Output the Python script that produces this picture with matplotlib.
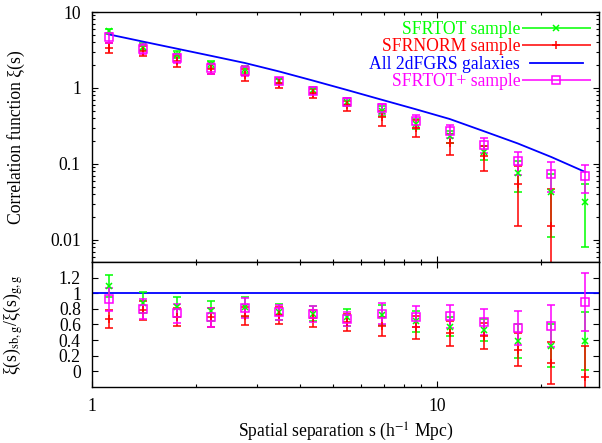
import numpy as np
import matplotlib
matplotlib.use("Agg")
import matplotlib.pyplot as plt
from matplotlib.container import ErrorbarContainer
from matplotlib.legend_handler import HandlerErrorbar
from matplotlib.ticker import LogLocator, FuncFormatter, NullFormatter

plt.rcParams['font.family'] = ['Liberation Serif', 'DejaVu Serif']
plt.rcParams['mathtext.fontset'] = 'stix'

# bin centres, s in h^-1 Mpc
sep = np.array([1.117, 1.404, 1.761, 2.21, 2.773, 3.479, 4.365, 5.477,
                6.896, 8.651, 10.86, 13.62, 17.09, 21.4, 26.85])

# xi(s) for each sample
xi_all = np.array([5.08, 4.08, 3.29, 2.65, 2.13, 1.65, 1.25, 0.94,
                   0.70, 0.525, 0.39, 0.27, 0.186, 0.123, 0.078])
xi_tot = np.array([5.6, 3.5, 2.75, 2.05, 1.75, 1.25, 0.93, 0.66,
                   0.50, 0.34, 0.23, 0.143, 0.075, 0.042, 0.031])
xi_tot_err = np.array([0.45, 0.35, 0.3, 0.2, 0.2, 0.12, 0.09, 0.08,
                       0.07, 0.05, 0.04, 0.03, 0.033, 0.031, 0.023])
xi_norm = np.array([3.4, 3.1, 2.25, 1.8, 1.5, 1.15, 0.85, 0.59,
                    0.41, 0.30, 0.19, 0.126, 0.055, 0.015, np.nan])  # last bin negative
xi_norm_err = np.array([0.55, 0.45, 0.38, 0.29, 0.26, 0.16, 0.12, 0.09,
                        0.09, 0.076, 0.06, 0.045, 0.04, 0.032, np.nan])
xi_plus = np.array([4.65, 3.3, 2.45, 1.82, 1.67, 1.24, 0.92, 0.66,
                    0.54, 0.368, 0.272, 0.178, 0.108, 0.074, 0.0695])
xi_plus_err = np.array([0.7, 0.5, 0.35, 0.28, 0.25, 0.13, 0.1, 0.07,
                        0.08, 0.07, 0.055, 0.04, 0.037, 0.031, 0.028])

# ratio to the full 2dFGRS sample
r_tot = np.array([1.09, 0.88, 0.82, 0.77, 0.82, 0.76, 0.74, 0.69,
                  0.72, 0.64, 0.57, 0.53, 0.39, 0.33, 0.39])
r_tot_err = np.array([0.14, 0.13, 0.13, 0.13, 0.13, 0.1, 0.1, 0.11,
                      0.13, 0.13, 0.12, 0.14, 0.215, 0.28, 0.37])
r_norm = np.array([0.67, 0.78, 0.69, 0.69, 0.71, 0.72, 0.68, 0.63,
                   0.575, 0.565, 0.49, 0.455, 0.28, 0.105, -0.07])
r_norm_err = np.array([0.115, 0.12, 0.115, 0.12, 0.12, 0.11, 0.11, 0.11,
                       0.125, 0.145, 0.16, 0.17, 0.21, 0.27, 0.40])
r_plus = np.array([0.92, 0.80, 0.745, 0.69, 0.81, 0.755, 0.735, 0.67,
                   0.74, 0.70, 0.705, 0.63, 0.555, 0.585, 0.89])
r_plus_err = np.array([0.15, 0.13, 0.12, 0.12, 0.13, 0.1, 0.1, 0.09,
                       0.13, 0.135, 0.15, 0.17, 0.215, 0.27, 0.37])

labels = ['SFRTOT sample', 'SFRNORM sample', 'All 2dFGRS galaxies', 'SFRTOT+ sample']
c_tot, c_norm, c_all, c_plus = '#00ff00', '#ff0000', '#0000ff', '#ff00ff'

FS = 12.7
ebar = dict(linestyle='none', elinewidth=1.1, capsize=3, capthick=1.1)
sty_tot = dict(color=c_tot, marker='x', ms=4.5, mew=1.1)
sty_norm = dict(color=c_norm, marker='+', ms=5.5, mew=1.1)
sty_plus = dict(color=c_plus, marker='s', ms=5.2, mfc='none', mew=1.1)


def style_axes(ax):
    ax.tick_params(which='both', direction='in', top=True, right=True,
                   labelsize=FS, width=0.8)
    ax.tick_params(which='major', length=4.5, pad=8)
    ax.tick_params(which='minor', length=2.2)
    for sp in ax.spines.values():
        sp.set_linewidth(1.0)


fig = plt.figure(figsize=(6.02, 4.43), dpi=100)
ax1 = fig.add_axes([0.1528, 0.4086, 0.8422, 0.5643])
ax2 = fig.add_axes([0.1528, 0.1264, 0.8422, 0.2822], sharex=ax1)

# upper panel: correlation functions
ax1.errorbar(sep, xi_tot, yerr=xi_tot_err, **sty_tot, **ebar)
ax1.errorbar(sep, xi_norm, yerr=xi_norm_err, **sty_norm, **ebar)
ax1.plot(sep, xi_all, color=c_all, lw=1.3)
ax1.errorbar(sep, xi_plus, yerr=xi_plus_err, **sty_plus, **ebar)

ax1.set_xscale('log')
ax1.set_yscale('log')
ax1.set_xlim(1, 29.4)
ax1.set_ylim(0.0051, 10)
fmt = FuncFormatter(lambda v, p: f'{v:g}')
ax1.yaxis.set_major_locator(LogLocator(base=10))
ax1.yaxis.set_minor_locator(LogLocator(base=10, subs=np.arange(2, 10)))
ax1.yaxis.set_major_formatter(fmt)
ax1.yaxis.set_minor_formatter(NullFormatter())
ax1.set_ylabel('Correlation function ξ(s)', fontsize=FS)
ax1.yaxis.set_label_coords(-0.132, 0.5)
style_axes(ax1)
ax1.tick_params(axis='x', labelbottom=False)

# legend with horizontal error-bar samples
proxies = [
    ax1.errorbar([], [], xerr=[], **sty_tot, **ebar),
    ax1.errorbar([], [], xerr=[], **sty_norm, **ebar),
    ax1.plot([], [], color=c_all, lw=1.3)[0],
    ax1.errorbar([], [], xerr=[], **sty_plus, **ebar),
]
leg = ax1.legend(proxies, labels, loc='upper right', bbox_to_anchor=(0.968, 0.965),
                 frameon=False, markerfirst=False, fontsize=FS, handlelength=3.0,
                 handletextpad=0.55, labelspacing=0.03, borderpad=0, borderaxespad=0,
                 handler_map={ErrorbarContainer: HandlerErrorbar(xerr_size=1.95)})
for txt, col in zip(leg.get_texts(), [c_tot, c_norm, c_all, c_plus]):
    txt.set_color(col)

# lower panel: ratios
ax2.axhline(1, color=c_all, lw=1.3)
ax2.errorbar(sep, r_tot, yerr=r_tot_err, **sty_tot, **ebar)
ax2.errorbar(sep, r_norm, yerr=r_norm_err, **sty_norm, **ebar)
ax2.errorbar(sep, r_plus, yerr=r_plus_err, **sty_plus, **ebar)
ax2.set_ylim(-0.2, 1.4)
ax2.set_yticks([0, 0.2, 0.4, 0.6, 0.8, 1.0, 1.2])
ax2.yaxis.set_major_formatter(fmt)
ax2.xaxis.set_major_formatter(fmt)
ax2.xaxis.set_minor_formatter(NullFormatter())
ax2.set_ylabel(r'ξ(s)$_{\rm sb,g}$/ξ(s)$_{\rm g,g}$', fontsize=FS)
ax2.yaxis.set_label_coords(-0.132, 0.5)
ax2.set_xlabel(r'Spatial separation s (h$^{-1}$ Mpc)', fontsize=FS, labelpad=4)
style_axes(ax2)

fig.savefig('out.png', dpi=100)
